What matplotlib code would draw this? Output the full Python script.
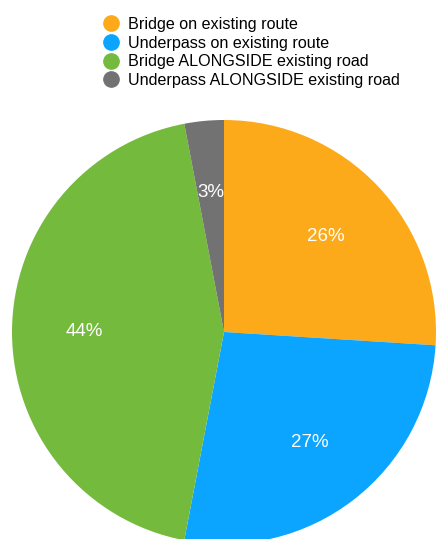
import matplotlib

matplotlib.use("Agg")
import matplotlib.pyplot as plt  # noqa: E402
from matplotlib.lines import Line2D  # noqa: E402

plt.rcParams["font.family"] = ["Liberation Sans", "DejaVu Sans"]

labels = [
    "Bridge on existing route",
    "Underpass on existing route",
    "Bridge ALONGSIDE existing road",
    "Underpass ALONGSIDE existing road",
]
shares = [26, 27, 44, 3]
colors = ["#FDAA1A", "#0BA4FE", "#74BA3C", "#727272"]

W, H = 436, 539
fig = plt.figure(figsize=(W / 100, H / 100), dpi=100)
ax = fig.add_axes([0, 0, 1, 1])

# Pie centre and radius in pixel coords (y up)
cx, cy, r = 224, H - 332, 212
wedges, texts, autotexts = ax.pie(
    shares,
    colors=colors,
    startangle=90,
    counterclock=False,
    center=(cx, cy),
    radius=r,
    autopct="%d%%",
    pctdistance=0.66,
    textprops={"color": "white", "fontsize": 13.5},
    frame=True,
)
ax.set_xlim(0, W)
ax.set_ylim(0, H)
ax.set_aspect("equal")
ax.axis("off")

handles = [
    Line2D([], [], marker="o", linestyle="none", markersize=11,
           markerfacecolor=c, markeredgecolor=c)
    for c in colors
]
fig.legend(
    handles, labels,
    loc="upper left",
    bbox_to_anchor=(93 / W, 1 - 9 / H),
    frameon=False,
    fontsize=11.6,
    handletextpad=0.45,
    labelspacing=0.22,
    handlelength=1.2,
    borderpad=0,
)

fig.savefig("out.png", dpi=100)
